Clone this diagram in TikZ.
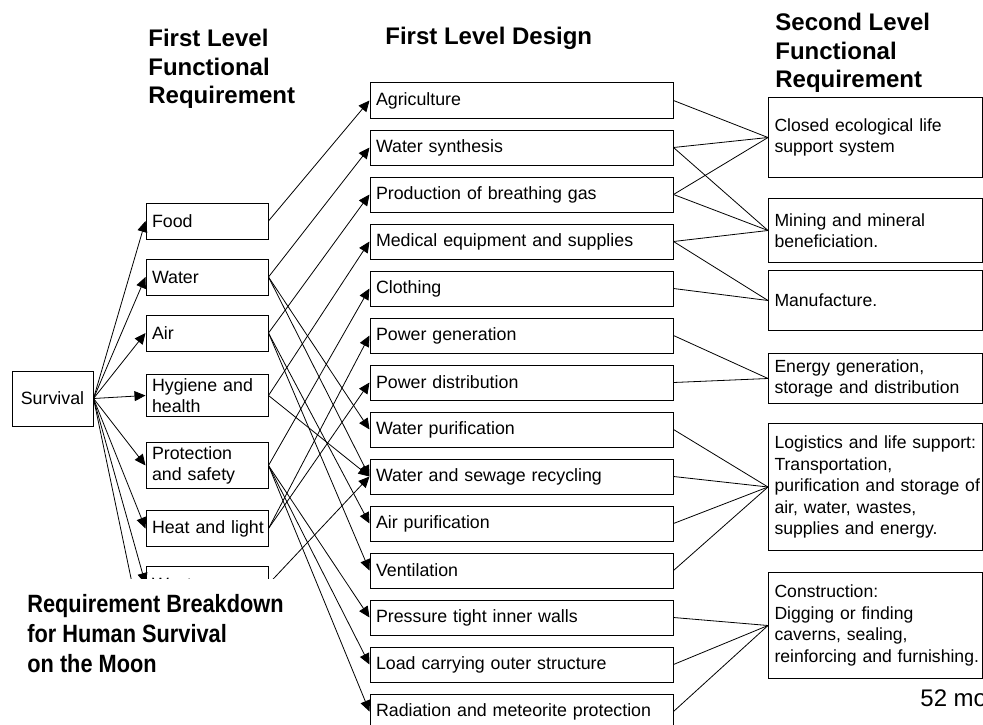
\documentclass[tikz,border=0pt]{standalone}
\usepackage{fontspec}
\setmainfont{Liberation Sans}
\newfontfamily\titlefont{Liberation Sans}[FakeStretch=0.87]
\usetikzlibrary{arrows.meta,positioning}

\begin{document}
\begin{tikzpicture}[x=1pt,y=-1pt,>={Triangle[length=11pt,width=10pt]},line width=0.8pt,
    every node/.style={font=\fontsize{17.8}{20.5}\selectfont},
    req node/.style={draw,line width=1pt,text width=110pt,inner xsep=6pt,inner ysep=4pt,minimum height=36pt,align=left},
    design node/.style={draw,line width=1pt,text width=291pt,inner xsep=6pt,minimum height=35pt,align=left},
    func node/.style={draw,line width=1pt,text width=202pt,inner xsep=6pt,align=left,anchor=north west,font=\fontsize{17.6}{21.5}\selectfont},
    head/.style={align=left,anchor=north west,inner sep=0pt,font=\fontsize{24}{28.5}\selectfont\bfseries}]

    \useasboundingbox (0,0) rectangle (983,725);
    \clip (0,0) rectangle (983,725);

    % root
    \node[draw,line width=1pt,minimum width=81pt,minimum height=55pt] (survival) at (52.5,398.5) {Survival};

    % first level functional requirements
    \node[req node] (food) at (207,221) {Food};
    \node[req node] (water) [below of=food,node distance=56pt] {Water};
    \node[req node] (air) [below of=water,node distance=56pt] {Air};
    \node[req node] (hygiene) [below of=air,node distance=62.5pt] {Hygiene and\\health};
    \node[req node] (protection) [below of=hygiene,node distance=70pt] {Protection\\and safety};
    \node[req node] (heat) [below of=protection,node distance=63pt] {\mbox{Heat and light}};
    \node[req node] (waste) [below of=heat,node distance=55.5pt] {Waste};
    \coordinate (below) at (146,650);

    % first level design
    \node[design node] (agri) at (521.5,100.5) {Agriculture};
    \node[design node] (wsynth) [below of=agri,node distance=47pt] {Water synthesis};
    \node[design node] (gas) [below of=wsynth,node distance=47pt] {Production of breathing gas};
    \node[design node] (medical) [below of=gas,node distance=47pt] {Medical equipment and supplies};
    \node[design node] (clothing) [below of=medical,node distance=47pt] {Clothing};
    \node[design node] (pgen) [below of=clothing,node distance=47pt] {Power generation};
    \node[design node] (pdist) [below of=pgen,node distance=47pt] {Power distribution};
    \node[design node] (wpurif) [below of=pdist,node distance=47pt] {Water purification};
    \node[design node] (sewage) [below of=wpurif,node distance=47pt] {Water and sewage recycling};
    \node[design node] (apurif) [below of=sewage,node distance=47pt] {Air purification};
    \node[design node] (vent) [below of=apurif,node distance=47pt] {Ventilation};
    \node[design node] (walls) [below of=vent,node distance=47pt] {Pressure tight inner walls};
    \node[design node] (structure) [below of=walls,node distance=47pt] {Load carrying outer structure};
    \node[design node] (shield) [below of=structure,node distance=47pt] {Radiation and meteorite protection};

    % second level functional requirements
    \node[func node,minimum height=80pt] (closed) at (768,97) {Closed ecological life\\support system};
    \node[func node,minimum height=64pt] (mining) at (768,198) {Mining and mineral\\beneficiation.};
    \node[func node,minimum height=60pt] (manuf) at (768,270) {Manufacture.};
    \node[func node,minimum height=50pt] (energy) at (768,353) {Energy generation,\\storage and distribution};
    \node[func node,minimum height=127pt] (logistics) at (768,423) {Logistics and life support:\\Transportation,\\\mbox{purification and storage of}\\air, water, wastes,\\supplies and energy.};
    \node[func node,minimum height=106pt] (construct) at (768,572) {Construction:\\Digging or finding\\caverns, sealing,\\\mbox{reinforcing and furnishing.}};

    \path[->] (survival.east) edge (food.west) edge (water.west) edge (air.west)
            edge (hygiene.west) edge (protection.west) edge (heat.west)
            edge (waste.west) edge (below);

    \path[->]
        (food.east) edge (agri.west)
        (water.east) edge (wsynth.west) edge (wpurif.west) edge (sewage.west)
        (air.east) edge (gas.west) edge (apurif.west) edge (vent.west)
        (hygiene.east) edge (medical.west) edge (sewage.west)
        (protection.east) edge (clothing.west) edge (walls.west) edge (structure.west) edge (shield.west)
        (heat.east) edge (pgen.west) edge (pdist.west)
        (waste.east) edge (sewage.west)
        ;

    \path
        (closed.west) edge (agri.east) edge (wsynth.east) edge (gas.east)
        (mining.west) edge (wsynth.east) edge (gas.east) edge (medical.east)
        (manuf.west) edge (medical.east) edge (clothing.east)
        (energy.west) edge (pgen.east) edge (pdist.east)
        (logistics.west) edge (wpurif.east) edge (sewage.east) edge (apurif.east) edge (vent.east)
        (construct.west) edge (walls.east) edge (structure.east) edge (shield.east)
        ;

    % caption box lying over the lower left corner
    \fill[white] (0,579) rectangle (276,725);
    \node[anchor=north west,align=left,inner sep=0pt,font=\titlefont\bfseries\fontsize{25}{30}\selectfont] (title) at (27,594)
        {Requirement Breakdown\\for Human Survival\\on the Moon};

    % column headings
    \node[head] (headreq) at (148,29) {First Level\\Functional\\Requirement};
    \node[head] (headdesign) at (385,27) {First Level Design};
    \node[head] (headsub) at (775,13) {Second Level\\Functional\\Requirement};

    \node[anchor=west,inner sep=0pt,font=\fontsize{24}{28}\selectfont] (page) at (920,698) {52 mo};
\end{tikzpicture}
\end{document}
